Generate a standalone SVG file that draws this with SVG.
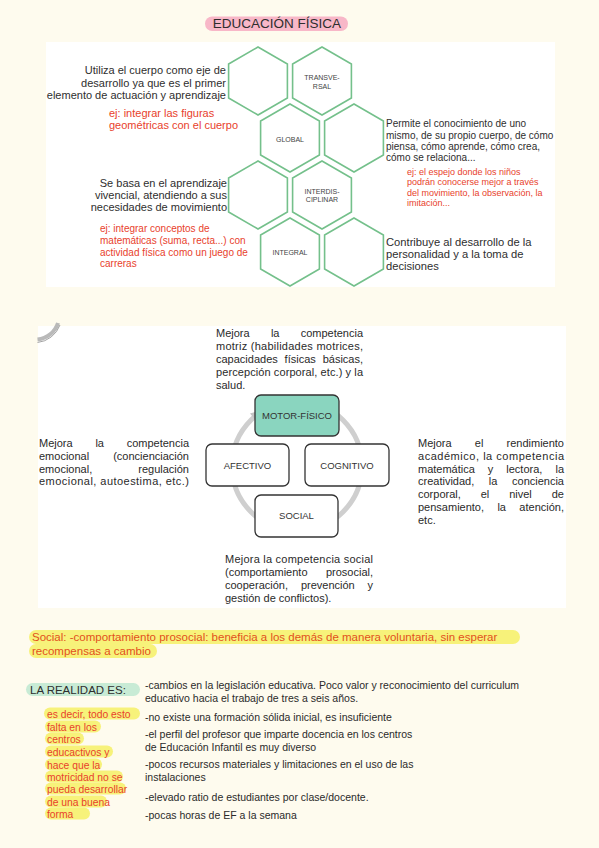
<svg xmlns="http://www.w3.org/2000/svg" xmlns:xlink="http://www.w3.org/1999/xlink" width="599" height="848" viewBox="0 0 599 848">
<style>
text{font-family:"Liberation Sans",Arial,sans-serif;fill:#2e2e2e}
.hex{fill:none;stroke:#74c08b;stroke-width:1.6}
.hl{font-size:7px;fill:#444;text-anchor:middle}
.t11{font-size:11px}
.red{fill:#e8412c}
.mid{font-size:11px;fill:#2a2a2a}
.box{fill:#fff;stroke:#333;stroke-width:1.3}
.bl{font-size:9.5px;text-anchor:middle;fill:#333}
.end{text-anchor:end}
.list{font-size:10.5px;fill:#2a2a2a}
.yl{fill:#f7f27a}
</style>
<defs>
<polygon id="hx" class="hex" points="0,-34 29.4,-17 29.4,17 0,34 -29.4,17 -29.4,-17"/>
</defs>
<rect width="599" height="848" fill="#fefbee"/>

<!-- Title -->
<g id="title">
<rect x="205" y="16.5" width="143" height="14.5" rx="7.2" fill="#f8b7c8"/>
<text x="277" y="28" text-anchor="middle" font-size="13.5" fill="#333">EDUCACIÓN FÍSICA</text>
</g>

<!-- Top panel -->
<rect x="46" y="42" width="509" height="245" fill="#fff"/>
<g id="hexagons">
<use xlink:href="#hx" x="258" y="81"/>
<g id="transversal"><use xlink:href="#hx" x="322" y="81"/><text class="hl" x="322" y="80">TRANSVE-</text><text class="hl" x="322" y="89">RSAL</text></g>
<g id="global"><use xlink:href="#hx" x="290" y="138"/><text class="hl" x="290" y="141.5">GLOBAL</text></g>
<use xlink:href="#hx" x="354" y="138"/>
<use xlink:href="#hx" x="258" y="195"/>
<g id="interdisciplinar"><use xlink:href="#hx" x="322" y="195"/><text class="hl" x="322" y="193.5">INTERDIS-</text><text class="hl" x="322" y="202">CIPLINAR</text></g>
<g id="integral"><use xlink:href="#hx" x="290" y="252"/><text class="hl" x="290" y="254.5">INTEGRAL</text></g>
<use xlink:href="#hx" x="354" y="252"/>
</g>
<g id="top-texts">
<text class="t11 end" x="226" y="74">Utiliza el cuerpo como eje de</text>
<text class="t11 end" x="226" y="86.5">desarrollo ya que es el primer</text>
<text class="t11 end" x="226" y="98.5">elemento de actuación y aprendizaje</text>
<text class="red" font-size="11" x="109" y="117">ej: integrar las figuras</text>
<text class="red" font-size="11" x="109" y="129">geométricas con el cuerpo</text>
<text class="t11 end" x="227" y="187">Se basa en el aprendizaje</text>
<text class="t11 end" x="227" y="199">vivencial, atendiendo a sus</text>
<text class="t11 end" x="227" y="211">necesidades de movimiento</text>
<text class="red" font-size="10" x="100" y="231.5">ej: integrar conceptos de</text>
<text class="red" font-size="10" x="100" y="243.5">matemáticas (suma, recta...)  con</text>
<text class="red" font-size="10" x="100" y="255.5">actividad física como un juego de</text>
<text class="red" font-size="10" x="100" y="267">carreras</text>
<text font-size="10" x="386" y="127">Permite el conocimiento de uno</text>
<text font-size="10" x="386" y="138.5">mismo, de su propio cuerpo, de cómo</text>
<text font-size="10" x="386" y="150">piensa, cómo aprende, cómo crea,</text>
<text font-size="10" x="386" y="161">cómo se relaciona...</text>
<text class="red" font-size="9" x="407" y="175">ej: el espejo donde los niños</text>
<text class="red" font-size="9" x="407" y="185">podrán conocerse mejor a través</text>
<text class="red" font-size="9" x="407" y="196">del movimiento, la observación, la</text>
<text class="red" font-size="9" x="407" y="206">imitación...</text>
<text font-size="11.2" x="386" y="246">Contribuye al desarrollo de la</text>
<text font-size="11.2" x="386" y="258">personalidad y a la toma de</text>
<text font-size="11.2" x="386" y="270">decisiones</text>
</g>

<!-- Middle panel -->
<rect x="38" y="326" width="528" height="282" fill="#fff"/>
<path d="M37.5,339.5 A24,24 0 0 0 58,323" fill="none" stroke="#b9b9b9" stroke-width="4"/>
<path d="M37.5,342.5 A27,27 0 0 0 60,325" fill="none" stroke="#8d8d8d" stroke-width="0.8"/>

<g id="connectors">
<circle cx="297" cy="466" r="65" fill="none" stroke="#cfcfcf" stroke-width="5"/>
<polygon points="258,411 250,413.5 255,419.5" fill="#c4c4c4"/>
</g>
<g id="motor"><rect class="box" x="255" y="395" width="84" height="41" rx="6" style="fill:#8ad5bf"/><text class="bl" x="297" y="418.5">MOTOR-FÍSICO</text></g>
<g id="afectivo"><rect class="box" x="206" y="444" width="83" height="42" rx="6"/><text class="bl" x="247.5" y="468.5">AFECTIVO</text></g>
<g id="cognitivo"><rect class="box" x="305" y="444" width="84" height="42" rx="6"/><text class="bl" x="347" y="468.5">COGNITIVO</text></g>
<g id="social"><rect class="box" x="255" y="495" width="83" height="42" rx="6"/><text class="bl" x="296.5" y="518.5">SOCIAL</text></g>

<g id="mid-texts">
<text class="mid" x="216" y="336.5">Mejora</text><text class="mid" x="270.9" y="336.5">la</text><text class="mid end" x="363" y="336.5">competencia</text>
<text class="mid" x="216" y="349.5" textLength="147" lengthAdjust="spacing">motriz (habilidades motrices,</text>
<text class="mid" x="216" y="362.5">capacidades</text><text class="mid" x="284.6" y="362.5">físicas</text><text class="mid end" x="363" y="362.5">básicas,</text>
<text class="mid" x="216" y="375.5" textLength="147" lengthAdjust="spacing">percepción corporal, etc.) y la</text>
<text class="mid" x="216" y="388.5">salud.</text>

<text class="mid" x="39" y="447">Mejora</text><text class="mid" x="95.4" y="447">la</text><text class="mid end" x="189" y="447">competencia</text>
<text class="mid" x="39" y="459.8">emocional</text><text class="mid end" x="189" y="459.8">(concienciación</text>
<text class="mid" x="39" y="472.6">emocional,</text><text class="mid end" x="189" y="472.6">regulación</text>
<text class="mid" x="39" y="485.4" textLength="150" lengthAdjust="spacing">emocional, autoestima, etc.)</text>

<text class="mid" x="418" y="447">Mejora</text><text class="mid" x="474.8" y="447">el</text><text class="mid end" x="564" y="447">rendimiento</text>
<text class="mid" x="418" y="459.8" textLength="146" lengthAdjust="spacing">académico, la competencia</text>
<text class="mid" x="418" y="472.6">matemática</text><text class="mid" x="487.8" y="472.6">y</text><text class="mid" x="506.3" y="472.6">lectora,</text><text class="mid end" x="564" y="472.6">la</text>
<text class="mid" x="418" y="485.4">creatividad,</text><text class="mid" x="488.8" y="485.4">la</text><text class="mid end" x="564" y="485.4">conciencia</text>
<text class="mid" x="418" y="498.2">corporal,</text><text class="mid" x="480.7" y="498.2">el</text><text class="mid" x="509.2" y="498.2">nivel</text><text class="mid end" x="564" y="498.2">de</text>
<text class="mid" x="418" y="511">pensamiento,</text><text class="mid" x="497.4" y="511">la</text><text class="mid end" x="564" y="511">atención,</text>
<text class="mid" x="418" y="523.8">etc.</text>

<text class="mid" x="225" y="562.5" textLength="148" lengthAdjust="spacing">Mejora la competencia social</text>
<text class="mid" x="225" y="575.5">(comportamiento</text><text class="mid end" x="373" y="575.5">prosocial,</text>
<text class="mid" x="225" y="588.5">cooperación,</text><text class="mid" x="300.9" y="588.5">prevención</text><text class="mid end" x="373" y="588.5">y</text>
<text class="mid" x="225" y="601.5">gestión de conflictos).</text>
</g>

<!-- Bottom notes -->
<g id="social-note">
<rect class="yl" x="29" y="630" width="491" height="14" rx="7"/>
<rect class="yl" x="29" y="644" width="128" height="14" rx="7"/>
<text x="32" y="641" font-size="11.5" style="fill:#e2501c">Social: -comportamiento prosocial: beneficia a los demás de manera voluntaria, sin esperar</text>
<text x="32" y="655" font-size="11.5" style="fill:#e2501c">recompensas a cambio</text>
</g>

<g id="realidad">
<rect x="26" y="683" width="114" height="13" rx="6.5" fill="#c8ebd5"/>
<text x="30" y="693.5" font-size="11.5" fill="#222">LA REALIDAD ES:</text>
</g>

<g id="highlight-note">
<rect class="yl" x="44" y="707.5" width="96" height="12" rx="6"/>
<rect class="yl" x="45" y="720.5" width="56" height="12" rx="6"/>
<rect class="yl" x="45" y="732.5" width="39" height="12" rx="6"/>
<rect class="yl" x="45" y="745.5" width="68" height="12" rx="6"/>
<rect class="yl" x="45" y="758.5" width="57" height="12" rx="6"/>
<rect class="yl" x="45" y="770.5" width="78" height="12" rx="6"/>
<rect class="yl" x="45" y="782.5" width="81" height="12" rx="6"/>
<rect class="yl" x="45" y="795.5" width="62" height="12" rx="6"/>
<rect class="yl" x="45" y="807.5" width="45" height="12" rx="6"/>
<g font-size="10.3">
<text class="red" x="47" y="717.5">es decir, todo esto</text>
<text class="red" x="47" y="730.5">falta en los</text>
<text class="red" x="47" y="742.5">centros</text>
<text class="red" x="47" y="755.5">educactivos y</text>
<text class="red" x="47" y="768.5">hace que la</text>
<text class="red" x="47" y="780.5">motricidad no se</text>
<text class="red" x="47" y="792.5">pueda desarrollar</text>
<text class="red" x="47" y="805.5">de una buena</text>
<text class="red" x="47" y="817.5">forma</text>
</g>
</g>

<g id="list">
<text class="list" x="145" y="688.5">-cambios en la legislación educativa. Poco valor y reconocimiento del curriculum</text>
<text class="list" x="145" y="701.5">educativo hacia el trabajo de tres a seis años.</text>
<text class="list" x="145" y="720.5">-no existe una formación sólida inicial, es insuficiente</text>
<text class="list" x="145" y="737.5">-el perfil del profesor que imparte docencia en los centros</text>
<text class="list" x="145" y="750.5">de Educación Infantil es muy diverso</text>
<text class="list" x="145" y="768">-pocos recursos materiales y limitaciones en el uso de las</text>
<text class="list" x="145" y="781">instalaciones</text>
<text class="list" x="145" y="801">-elevado ratio de estudiantes por clase/docente.</text>
<text class="list" x="145" y="818.5">-pocas horas de EF a la semana</text>
</g>
</svg>
